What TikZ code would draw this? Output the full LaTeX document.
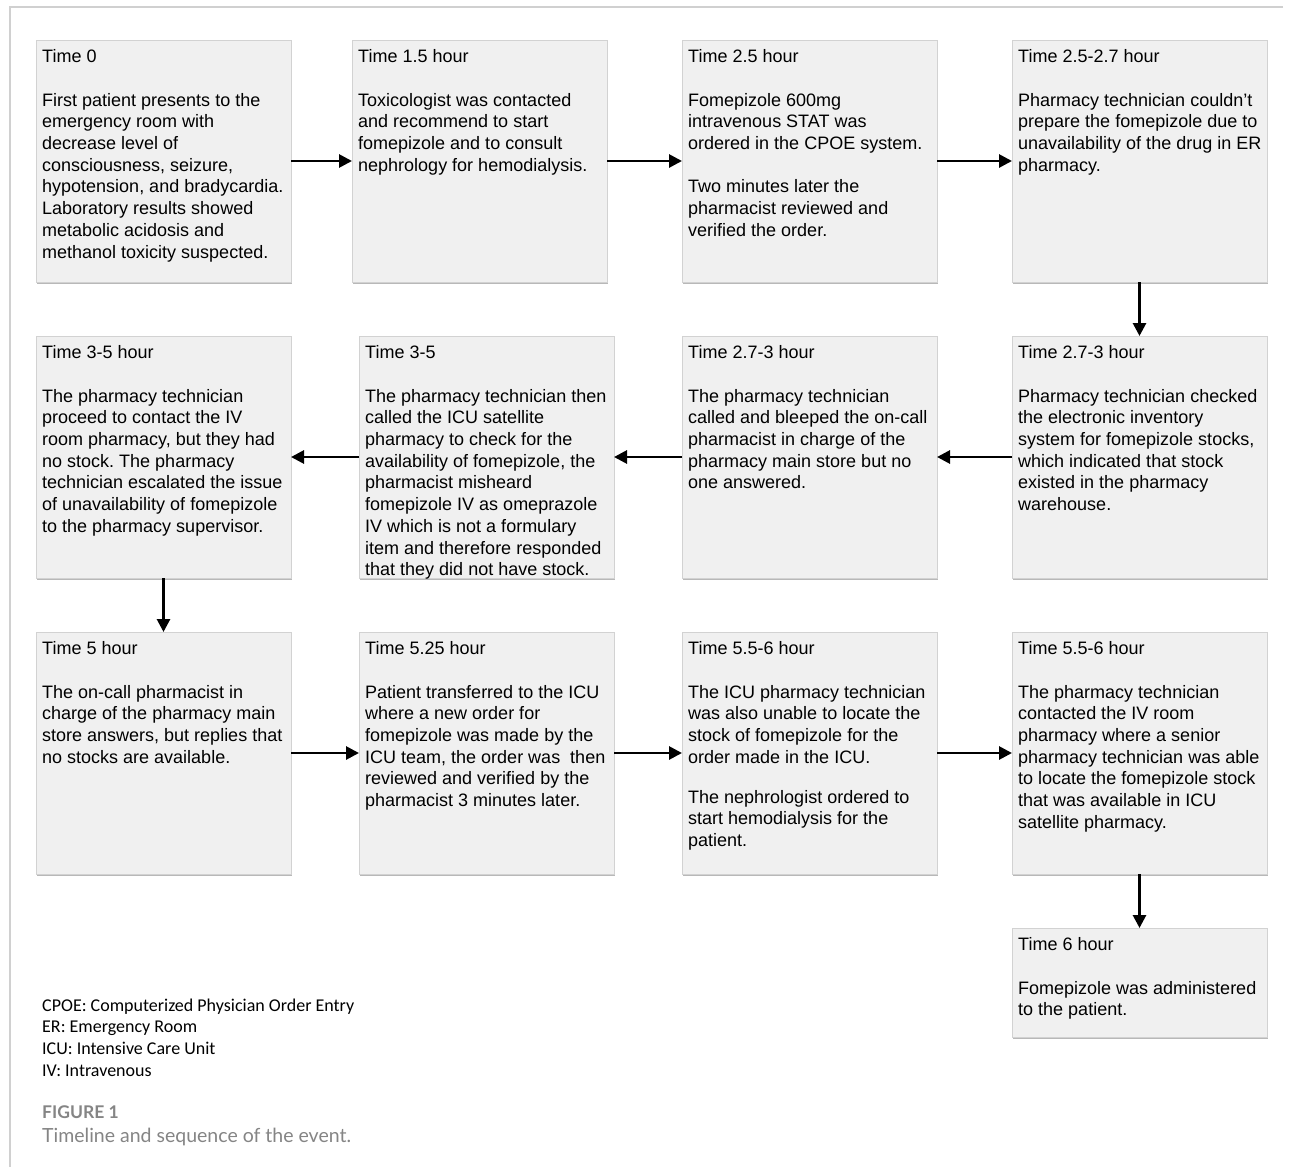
\documentclass[tikz,border=0pt]{standalone}
\usepackage{fontspec}
\setmainfont{Liberation Sans}
\newfontfamily\legfont{Carlito}
\newfontfamily\capfont{Lato}
\usetikzlibrary{arrows.meta,shadows}
\definecolor{boxfill}{HTML}{F0F0F0}
\definecolor{boxline}{HTML}{D2D2D2}
\definecolor{framec}{HTML}{D0D0D0}
\definecolor{capgray}{HTML}{858585}
\tikzset{
  evbox/.style={rectangle, fill=boxfill, draw=boxline, line width=1pt, outer sep=0pt,
    minimum width=255pt, minimum height=242pt, anchor=north west,
    general shadow={fill=black!28, shadow xshift=0.6pt, shadow yshift=-2.4pt}},
  evtext/.style={anchor=north west, inner sep=0pt, align=left,
    font=\fontsize{18}{21.7}\selectfont},
  flow/.style={line width=2.8pt, -{Triangle[length=13pt,width=13pt]}},
  legtext/.style={anchor=north west, inner sep=0pt, align=left,
    font=\legfont\fontsize{18}{21.7}\selectfont},
}
\newcommand{\fs}{\rule{0pt}{16pt}}
\frenchspacing
\begin{document}
\begin{tikzpicture}[x=1pt,y=-1pt]
\useasboundingbox (0,0) rectangle (1293,1167);
\fill[white] (0,0) rectangle (1293,1167);
\draw[framec, line width=1.5pt] (1283,7) -- (10,7) -- (10,1167);

% row 1
\node[evbox] (b1) at (36,40) {};
\node[evbox] (b2) at (352,40) {};
\node[evbox] (b3) at (682,40) {};
\node[evbox] (b4) at (1012,40) {};
% row 2
\node[evbox] (b8) at (36,336) {};
\node[evbox] (b7) at (359,336) {};
\node[evbox] (b6) at (682,336) {};
\node[evbox] (b5) at (1012,336) {};
% row 3
\node[evbox] (b9) at (36,632) {};
\node[evbox] (b10) at (359,632) {};
\node[evbox] (b11) at (682,632) {};
\node[evbox] (b12) at (1012,632) {};
% row 4
\node[evbox, minimum height=109pt] (b13) at (1012,928) {};

\node[evtext] (t1) at ([shift={(6,6.5)}]b1.north west) {\fs Time 0\\[21.7pt]
First patient presents to the\\ emergency room with\\ decrease level of\\ consciousness, seizure,\\ hypotension, and bradycardia.\\ Laboratory results showed\\ metabolic acidosis and\\ methanol toxicity suspected.};
\node[evtext] (t2) at ([shift={(6,6.5)}]b2.north west) {\fs Time 1.5 hour\\[21.7pt]
Toxicologist was contacted\\ and recommend to start\\ fomepizole and to consult\\ nephrology for hemodialysis.};
\node[evtext] (t3) at ([shift={(6,6.5)}]b3.north west) {\fs Time 2.5 hour\\[21.7pt]
Fomepizole 600mg\\ intravenous STAT was\\ ordered in the CPOE system.\\[21.7pt]
Two minutes later the\\ pharmacist reviewed and\\ verified the order.};
\node[evtext] (t4) at ([shift={(6,6.5)}]b4.north west) {\fs Time 2.5-2.7 hour\\[21.7pt]
Pharmacy technician couldn’t\\ prepare the fomepizole due to\\ unavailability of the drug in ER\\ pharmacy.};
\node[evtext] (t5) at ([shift={(6,6.5)}]b5.north west) {\fs Time 2.7-3 hour\\[21.7pt]
Pharmacy technician checked\\ the electronic inventory\\ system for fomepizole stocks,\\ which indicated that stock\\ existed in the pharmacy\\ warehouse.};
\node[evtext] (t6) at ([shift={(6,6.5)}]b6.north west) {\fs Time 2.7-3 hour\\[21.7pt]
The pharmacy technician\\ called and bleeped the on-call\\ pharmacist in charge of the\\ pharmacy main store but no\\ one answered.};
\node[evtext] (t7) at ([shift={(6,6.5)}]b7.north west) {\fs Time 3-5\\[21.7pt]
The pharmacy technician then\\ called the ICU satellite\\ pharmacy to check for the\\ availability of fomepizole, the\\ pharmacist misheard\\ fomepizole IV as omeprazole\\ IV which is not a formulary\\ item and therefore responded\\ that they did not have stock.};
\node[evtext] (t8) at ([shift={(6,6.5)}]b8.north west) {\fs Time 3-5 hour\\[21.7pt]
The pharmacy technician\\ proceed to contact the IV\\ room pharmacy, but they had\\ no stock. The pharmacy\\ technician escalated the issue\\ of unavailability of fomepizole\\ to the pharmacy supervisor.};
\node[evtext] (t9) at ([shift={(6,6.5)}]b9.north west) {\fs Time 5 hour\\[21.7pt]
The on-call pharmacist in\\ charge of the pharmacy main\\ store answers, but replies that\\ no stocks are available.};
\node[evtext] (t10) at ([shift={(6,6.5)}]b10.north west) {\fs Time 5.25 hour\\[21.7pt]
Patient transferred to the ICU\\ where a new order for\\ fomepizole was made by the\\ ICU team, the order was\ \ then\\ reviewed and verified by the\\ pharmacist 3 minutes later.};
\node[evtext] (t11) at ([shift={(6,6.5)}]b11.north west) {\fs Time 5.5-6 hour\\[21.7pt]
The ICU pharmacy technician\\ was also unable to locate the\\ stock of fomepizole for the\\ order made in the ICU.\\[18.3pt]
The nephrologist ordered to\\ start hemodialysis for the\\ patient.};
\node[evtext] (t12) at ([shift={(6,6.5)}]b12.north west) {\fs Time 5.5-6 hour\\[21.7pt]
The pharmacy technician\\ contacted the IV room\\ pharmacy where a senior\\ pharmacy technician was able\\ to locate the fomepizole stock\\ that was available in ICU\\ satellite pharmacy.};
\node[evtext] (t13) at ([shift={(6,6.5)}]b13.north west) {\fs Time 6 hour\\[21.7pt]
Fomepizole was administered\\ to the patient.};

% connectors
\draw[flow] (b1.east) -- (b2.west);
\draw[flow] (b2.east) -- (b3.west);
\draw[flow] (b3.east) -- (b4.west);
\draw[flow] (b4.south) -- (b5.north);
\draw[flow] (b5.west) -- (b6.east);
\draw[flow] (b6.west) -- (b7.east);
\draw[flow] (b7.west) -- (b8.east);
\draw[flow] (b8.south) -- (b9.north);
\draw[flow] (b9.east) -- (b10.west);
\draw[flow] (b10.east) -- (b11.west);
\draw[flow] (b11.east) -- (b12.west);
\draw[flow] (b12.south) -- (b13.north);

% legend
\node[legtext] (leg) at (42,995) {\fs CPOE: Computerized Physician Order Entry\\ ER: Emergency Room\\ ICU: Intensive Care Unit\\ IV: Intravenous};
\node[anchor=north west, inner sep=0pt, text=capgray, font=\capfont\bfseries\fontsize{17.5}{21}\selectfont] (figl) at (42,1105) {FIGURE 1};
\node[anchor=north west, inner sep=0pt, text=capgray, font=\capfont\fontsize{19.5}{22}\selectfont] (capt) at (42,1128) {Timeline and sequence of the event.};
\end{tikzpicture}
\end{document}
